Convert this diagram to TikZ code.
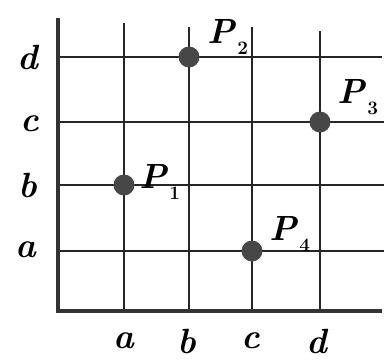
\documentclass[tikz,border=0pt]{standalone}
\newcommand{\sublbl}[2]{\textit{#1}\kern2pt\raisebox{-0.3em}{\fontsize{19}{22}\selectfont\upshape #2}}
\begin{document}
\begin{tikzpicture}[x=1pt,y=-1pt,
  gridline/.style={line width=1.6pt, black!85},
  axisline/.style={line width=4pt, black!80, line cap=rect},
  dot/.style={circle, fill=black!72, minimum size=21pt, inner sep=0pt},
  lbl/.style={inner sep=0pt, font=\fontsize{35}{40}\selectfont\bfseries\itshape}]
\useasboundingbox (0,0) rectangle (384,360);
% grid end coordinates
\coordinate (va1) at (124,23);  \coordinate (va2) at (124,311);
\coordinate (vb1) at (189,27);  \coordinate (vb2) at (189,311);
\coordinate (vc1) at (252,27);  \coordinate (vc2) at (252,311);
\coordinate (vd1) at (320,31);  \coordinate (vd2) at (320,311);
\coordinate (hd1) at (60,57);   \coordinate (hd2) at (382,57);
\coordinate (hc1) at (60,122);  \coordinate (hc2) at (384,122);
\coordinate (hb1) at (60,185);  \coordinate (hb2) at (384,185);
\coordinate (ha1) at (60,251);  \coordinate (ha2) at (384,251);
\coordinate (top) at (58,20); \coordinate (origin) at (58,311); \coordinate (right) at (380,311);
\foreach \n in {va,vb,vc,vd,hd,hc,hb,ha}{\draw[gridline] (\n1) -- (\n2);}
\draw[axisline] (top) -- (origin) -- (right);
% points
\node[dot] (p1) at (124,185) {};
\node[dot] (p2) at (189,57) {};
\node[dot] (p3) at (320,122) {};
\node[dot] (p4) at (252,251) {};
\node[lbl] (l1) at (160,182) {\sublbl{P}{1}};
\node[lbl] (l2) at (228,37) {\sublbl{P}{2}};
\node[lbl] (l3) at (358,97) {\sublbl{P}{3}};
\node[lbl] (l4) at (290,234) {\sublbl{P}{4}};
% axis labels
\node[lbl] (yd) at (28,57) {d};
\node[lbl] (yc) at (30,124) {c};
\node[lbl] (yb) at (28,185) {b};
\node[lbl] (ya) at (26,250) {a};
\node[lbl] (xa) at (124,341) {a};
\node[lbl] (xb) at (187,341) {b};
\node[lbl] (xc) at (251,341) {c};
\node[lbl] (xd) at (317,341) {d};
\end{tikzpicture}
\end{document}
